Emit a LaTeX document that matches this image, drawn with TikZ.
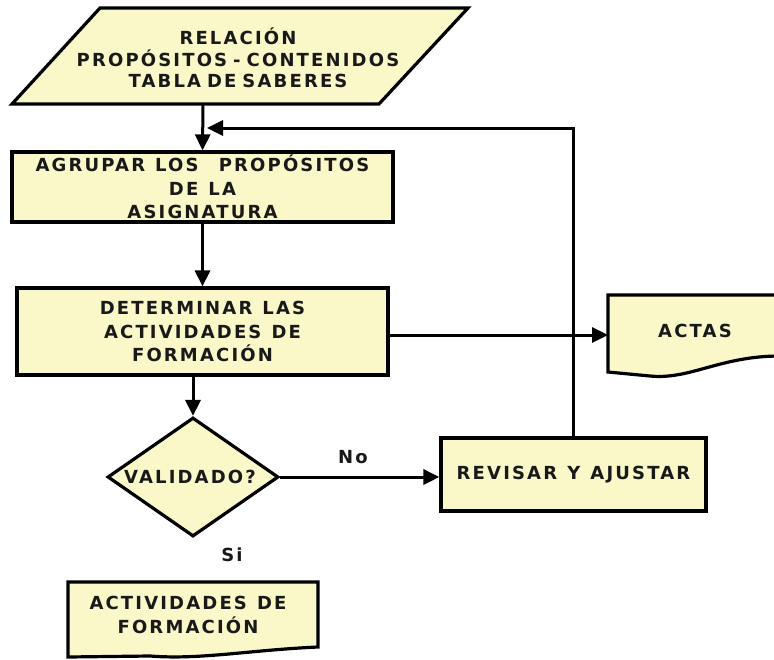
\documentclass[tikz,border=0pt]{standalone}
\usepackage{fontspec}
\newfontfamily\boxfont[LetterSpace=12,WordSpace=1.2]{DejaVu Sans}
\usetikzlibrary{arrows.meta,shapes.geometric}
\definecolor{docyellow}{RGB}{250,247,200}
\definecolor{inkgray}{RGB}{25,25,25}
\tikzset{
  txt/.style={font=\boxfont\bfseries\fontsize{18}{23.5}\selectfont, text=inkgray, align=center, inner sep=0pt},
  boxshape/.style={draw, line width=3.2pt, fill=docyellow, txt},
  outline/.style={draw, line width=3.2pt, fill=docyellow},
  conn/.style={line width=3pt, -{Triangle[length=16pt,width=15pt]}},
}
\begin{document}
\begin{tikzpicture}[x=1pt,y=-1pt]
\useasboundingbox (0,0) rectangle (774,659);
\clip (0,0) rectangle (774,659);
% parallelogram
\path[outline, line join=miter] (100,8) -- (468,8) -- (379,104) -- (12,104) -- cycle;
\node[txt, text width=360pt] (rel) at (238,58) {RELACIÓN\\[-2pt]PROPÓSITOS - CONTENIDOS\\[-2pt]TABLA DE SABERES};
\coordinate (relbot) at (203,104);
% boxes
\node[boxshape, minimum width=381pt, minimum height=70pt] (agrupar) at (202.5,187) {AGRUPAR LOS \ PROPÓSITOS\\DE LA\\ASIGNATURA};
\node[boxshape, minimum width=371pt, minimum height=87pt] (determinar) at (202.5,331.5) {DETERMINAR LAS\\ACTIVIDADES DE\\FORMACIÓN};
\node[boxshape, minimum width=265pt, minimum height=73pt] (revisar) at (573.5,474.5) {REVISAR Y AJUSTAR};
% diamond
\node[diamond, outline, minimum width=171pt, minimum height=119pt, inner sep=0pt, aspect=1.437] (valid) at (193,477) {};
\node[txt] (validtxt) at (190,477) {VALIDADO?};
% ACTAS document
\path[outline] (608,295) -- (780,295) -- (780,356) .. controls (720,356) and (690,380) .. (650,376) -- (608,372) -- cycle;
\node[txt] (actas) at (695,331) {ACTAS};
\coordinate (actasw) at (608,335);
% ACTIVIDADES document
\path[outline] (68,582) -- (318,582) -- (318,647) .. controls (250,650) and (200,660) .. (150,656) -- (68,657) -- cycle;
\node[txt] (activ) at (188,615) {ACTIVIDADES DE\\FORMACIÓN};
% labels
\node[txt] (nolab) at (353,457) {No};
\node[txt] (silab) at (232,555) {Si};
% connectors
\coordinate (loopend) at (207,128);
\draw[conn] (relbot) -- (agrupar.north);
\draw[conn] (agrupar.south) -- (determinar.north);
\draw[conn] (valid.north |- determinar.south) -- (valid.north);
\draw[conn] (determinar.east |- actasw) -- (actasw);
\draw[conn] (valid.east) -- (valid.east -| revisar.west);
\draw[conn] (revisar.north) |- (loopend);
\end{tikzpicture}
\end{document}
